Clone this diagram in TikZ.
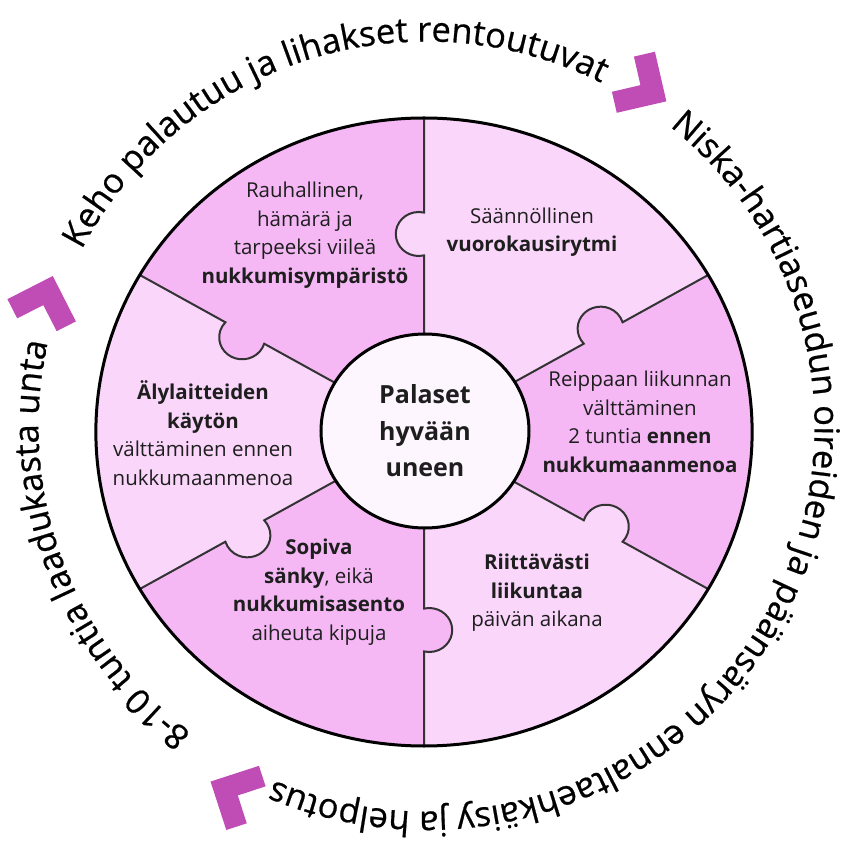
\documentclass[tikz,border=0pt]{standalone}
\usepackage{fontspec}
\setmainfont{Open Sans}
\newfontfamily\ringfamily[FakeBold=0.6]{Open Sans}
\usetikzlibrary{shapes.geometric, decorations.text}

\definecolor{piecedark}{RGB}{245,184,245}
\definecolor{piecelight}{RGB}{250,214,250}
\definecolor{hubfill}{RGB}{254,246,254}
\definecolor{arrowpink}{RGB}{192,76,182}
\definecolor{inktext}{RGB}{30,30,30}

\newcommand{\ringfont}{\ringfamily\fontsize{34.5}{34.5}\selectfont}

\tikzset{
  rim/.style={line width=3pt, black},
  seam/.style={line width=2pt, black!80},
  piece text/.style={align=center, text=inktext, font=\fontsize{20.5}{28.5}\selectfont},
  hub/.style={ellipse, draw, line width=3pt, fill=hubfill, minimum width=208pt,
    minimum height=194pt, inner sep=0pt, align=center, text=inktext,
    font=\bfseries\fontsize{25}{36.5}\selectfont},
  ring text/.style={decorate, decoration={text along path, text align=center, text={#1}}},
}

\begin{document}
\begin{tikzpicture}[x=1pt, y=1pt]
\useasboundingbox (-424,-421) rectangle (418,432);

% puzzle pieces
\begin{scope}[xscale=1.045]
  \foreach \a/\col in {90/piecedark, 30/piecelight, -30/piecedark, -90/piecelight, -150/piecedark, 150/piecelight}
    \fill[\col] (0,0) -- (\a:314) arc[start angle=\a, end angle=\a+60, radius=314] -- cycle;
  % tabs (colour of the piece on the clockwise side)
  \foreach \a/\col in {90/piecelight, 30/piecedark, -30/piecelight, -90/piecedark, 210/piecelight, 150/piecedark}
    \fill[\col, rotate=\a] (198,5) circle[radius=22];
  \foreach \a in {90,30,-30,-90,210,150}
    \draw[seam, rotate=\a] (90,0) -- (176.6,0) arc[start angle=193.15, end angle=-13.15, radius=22] -- (314,0);
  \draw[rim] (0,0) circle[radius=314];
\end{scope}

\node[hub] (hub) at (1,1) {Palaset\\hyvään\\uneen};

\node[piece text] (sleeproom) at (-119,197) {Rauhallinen,\\hämärä ja\\tarpeeksi viileä\\\textbf{nukkumisympäristö}};
\node[piece text] (rhythm) at (108,200) {Säännöllinen\\\textbf{vuorokausirytmi}};
\node[piece text] (evening) at (216,10) {Reippaan liikunnan\\välttäminen\\2 tuntia \textbf{ennen}\\\textbf{nukkumaanmenoa}};
\node[piece text] (daytime) at (113,-161) {\textbf{Riittävästi}\\\textbf{liikuntaa}\\päivän aikana};
\node[piece text] (bed) at (-105,-160) {\textbf{Sopiva}\\\textbf{sänky}, eikä\\\textbf{nukkumisasento}\\aiheuta kipuja};
\node[piece text] (devices) at (-221,-1) {\textbf{Älylaitteiden}\\\textbf{käytön}\\välttäminen ennen\\nukkumaanmenoa};

% ring texts
\begin{scope}[shift={(2.5,5.5)}]
  \path[ring text={|\ringfont|Keho palautuu ja lihakset rentoutuvat}]
    (180:388 and 385) arc[start angle=180, end angle=36, x radius=388, y radius=385];
  \path[ring text={|\ringfont|Niska-hartiaseudun oireiden ja päänsäryn ennaltaehkäisy ja helpotus}]
    (72:388 and 385) arc[start angle=72, end angle=-134, x radius=388, y radius=385];
  \path[ring text={|\ringfont|8-10 tuntia laadukasta unta}]
    (260:388 and 385) arc[start angle=260, end angle=140, x radius=388, y radius=385];
\end{scope}

% arrows
\foreach \x/\y/\r in {221/344/-32, -379/132/72, -191/-361/153}
  \fill[arrowpink, shift={(\x,\y)}, rotate=\r, scale=1.2] (21,0) -- (-9,30) -- (-21.7,17.3) -- (-4.5,0) -- (-21.7,-17.3) -- (-9,-30) -- cycle;
\end{tikzpicture}
\end{document}
